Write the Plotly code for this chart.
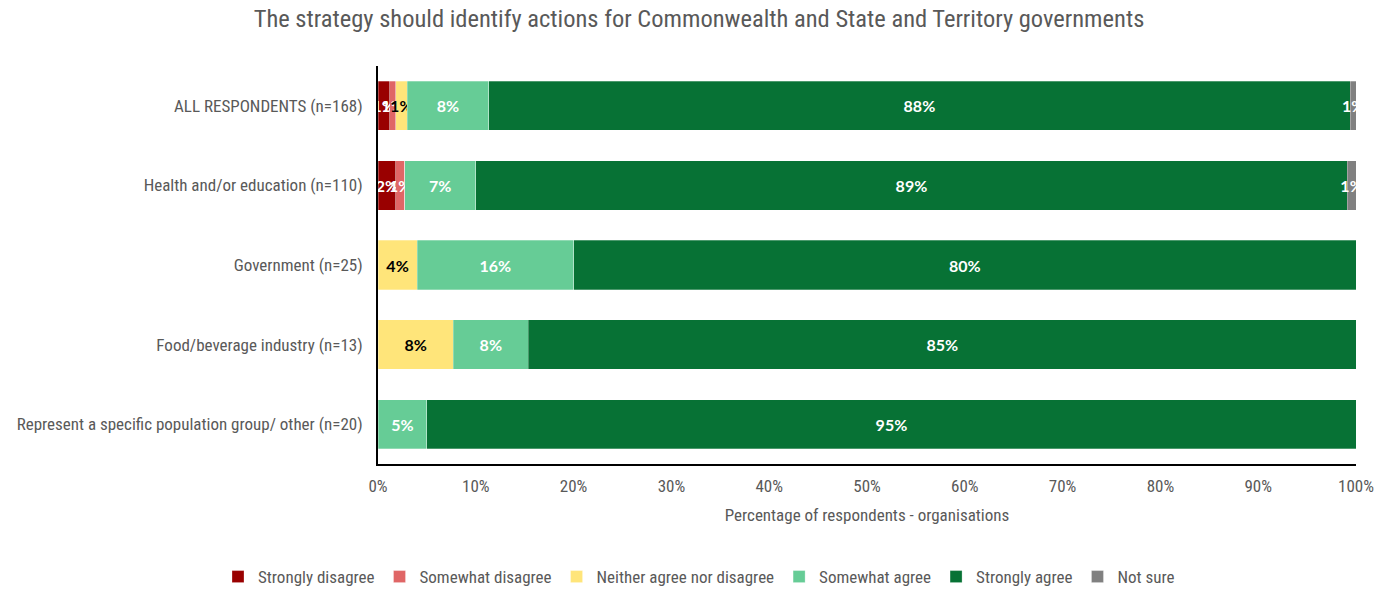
import plotly.graph_objects as go

# Respondent groups (top to bottom)
groups = [
    "ALL RESPONDENTS (n=168)",
    "Health and/or education (n=110)",
    "Government (n=25)",
    "Food/beverage industry (n=13)",
    "Represent a specific population group/ other (n=20)",
]

# Share of respondents (%) per answer, same order as groups
strongly_disagree = [1.19, 1.82, 0.0, 0.0, 0.0]
somewhat_disagree = [0.60, 0.91, 0.0, 0.0, 0.0]
neither = [1.19, 0.0, 4.0, 7.69, 0.0]
somewhat_agree = [8.33, 7.27, 16.0, 7.69, 5.0]
strongly_agree = [88.10, 89.09, 80.0, 84.62, 95.0]
not_sure = [0.60, 0.91, 0.0, 0.0, 0.0]

x_ticks = [0, 10, 20, 30, 40, 50, 60, 70, 80, 90, 100]
x_tick_labels = [f"{t}%" for t in x_ticks]

series = [
    ("Strongly disagree", strongly_disagree, "#990000", "white"),
    ("Somewhat disagree", somewhat_disagree, "#E06666", "white"),
    ("Neither agree nor disagree", neither, "#FFE57A", "black"),
    ("Somewhat agree", somewhat_agree, "#66CC96", "white"),
    ("Strongly agree", strongly_agree, "#077235", "white"),
    ("Not sure", not_sure, "#808080", "white"),
]

NARROW = "Roboto Condensed, Liberation Sans Narrow, Arial Narrow, Arial, sans-serif"
LABEL_FONT = "Lato, Calibri, Open Sans, Arial, sans-serif"
GREY = "#595959"

fig = go.Figure()
for name, vals, color, txtcolor in series:
    fig.add_trace(go.Bar(
        y=groups,
        x=vals,
        name=name,
        orientation="h",
        marker=dict(color=color, line=dict(color="rgba(255,255,255,0.35)", width=0.8)),
        text=[f"{v:.0f}%" if v > 0 else "" for v in vals],
        textposition="inside",
        insidetextanchor="middle",
        textangle=0,
        textfont=dict(family=LABEL_FONT, size=16, color=txtcolor, weight="bold"),
        hovertemplate="%{y}<br>" + name + ": %{x:.1f}%<extra></extra>",
    ))

fig.update_layout(
    barmode="stack",
    bargap=0.38,
    width=1376,
    height=590,
    paper_bgcolor="white",
    plot_bgcolor="white",
    margin=dict(l=378, r=20, t=66, b=126),
    uniformtext=dict(minsize=16, mode="show"),
    title=dict(
        text="The strategy should identify actions for Commonwealth and State and Territory governments",
        x=0.508, xanchor="center", y=0.968, yanchor="middle",
        font=dict(family=NARROW, size=24.5, color=GREY),
    ),
    font=dict(family=NARROW, color=GREY, size=17),
    legend=dict(
        orientation="h",
        xref="container",
        x=0.508, xanchor="center",
        yref="container",
        y=0.022, yanchor="middle",
        font=dict(family=NARROW, size=17, color=GREY),
        traceorder="normal",
        itemwidth=30,
    ),
    xaxis=dict(
        range=[0, 100],
        tickvals=x_ticks,
        ticktext=x_tick_labels,
        showgrid=False,
        zeroline=False,
        showline=True,
        linecolor="black",
        linewidth=2,
        ticks="",
        automargin=False,
        ticklabelstandoff=6,
        tickfont=dict(family=NARROW, size=17, color=GREY),
        title=dict(text="Percentage of respondents - organisations",
                   font=dict(family=NARROW, size=17, color=GREY), standoff=14),
    ),
    yaxis=dict(
        categoryorder="array",
        categoryarray=groups[::-1],
        autorange=False,
        range=[-0.5, 4.5],
        showgrid=False,
        zeroline=False,
        showline=True,
        linecolor="black",
        linewidth=2,
        ticks="",
        automargin=False,
        ticklabelstandoff=10,
        tickfont=dict(family=NARROW, size=17, color=GREY),
    ),
)

fig.write_html("out.html")
